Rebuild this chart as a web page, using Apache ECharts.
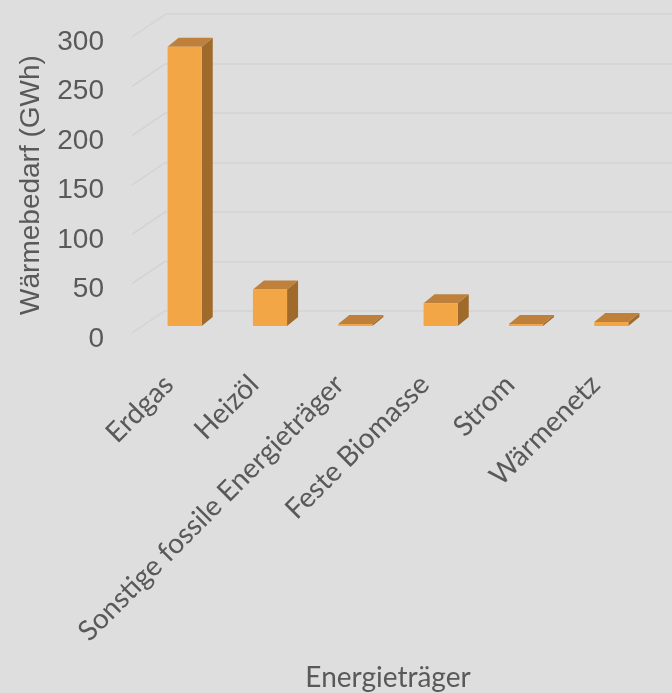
<!DOCTYPE html>
<html>
<head>
<meta charset="utf-8">
<script src="https://cdn.jsdelivr.net/npm/echarts@6/dist/echarts.min.js"></script>
<style>
  html, body { margin: 0; padding: 0; background: #dedede; }
  #chart { width: 672px; height: 693px; }
</style>
</head>
<body>
<div id="chart"></div>
<script>
// Heat demand by energy carrier (GWh)
const categories = ['Erdgas', 'Heizöl', 'Sonstige fossile Energieträger', 'Feste Biomasse', 'Strom', 'Wärmenetz'];
const demandGWh = [283, 37, 2, 23, 2, 4];
const yTicks = [0, 50, 100, 150, 200, 250, 300];

const FRONT = '#f3a646';
const SIDE = '#a06a2a';
const TOP = '#be803a';
const GRID_LINE = '#d3d3d3';
const TEXT = '#595959';

// depth of the back wall relative to the front plane (px)
const WALL_DX = 34, WALL_DY = -23;
// bar placement inside the depth: offset of the bar front face and the bar's own depth
const BAR_FX = 10, BAR_FY = -7;
const BAR_DX = 11, BAR_DY = -9;

const chart = echarts.init(document.getElementById('chart'), null, { renderer: 'canvas' });

function renderBar(params, api) {
  const idx = api.value(0);
  const v = api.value(1);
  const base = api.coord([idx, 0]);
  const topPt = api.coord([idx, v]);
  const band = api.size([1, 0])[0];
  const w = band * 0.4;
  const xl = base[0] + BAR_FX - w / 2;
  const xr = xl + w;
  const yb = base[1] + BAR_FY;
  const yt = topPt[1] + BAR_FY;
  return {
    type: 'group',
    children: [
      { type: 'polygon', shape: { points: [[xr, yb], [xr + BAR_DX, yb + BAR_DY], [xr + BAR_DX, yt + BAR_DY], [xr, yt]] }, style: { fill: SIDE } },
      { type: 'polygon', shape: { points: [[xl, yt], [xr, yt], [xr + BAR_DX, yt + BAR_DY], [xl + BAR_DX, yt + BAR_DY]] }, style: { fill: TOP } },
      { type: 'rect', shape: { x: xl, y: yt, width: w, height: yb - yt }, style: { fill: FRONT } }
    ]
  };
}

function renderSideLine(params, api) {
  const v = api.value(1);
  const p = api.coord([0, v]);
  const x0 = params.coordSys.x;
  return {
    type: 'line',
    shape: { x1: x0, y1: p[1], x2: x0 + WALL_DX, y2: p[1] + WALL_DY },
    style: { stroke: GRID_LINE, lineWidth: 1.5 }
  };
}

const valueAxisBase = { type: 'value', min: 0, max: 300, interval: 50 };

chart.setOption({
  backgroundColor: '#dedede',
  animation: false,
  grid: [
    { left: 132, top: 37, width: 512, height: 297 },   // front plane
    { left: 126, top: 37, width: 512, height: 297 },   // category labels
    { left: 166, top: 14, width: 520, height: 297 },   // back wall
    { left: 132, top: 42, width: 512, height: 297 }    // value labels
  ],
  xAxis: [
    {
      gridIndex: 0, type: 'category', data: categories,
      axisLine: { show: false }, axisTick: { show: false }, axisLabel: { show: false },
      name: 'Energieträger', nameLocation: 'middle', nameGap: 331,
      nameTextStyle: { fontFamily: 'Lato', fontSize: 28, color: TEXT }
    },
    {
      gridIndex: 1, type: 'category', data: categories,
      axisLine: { show: false }, axisTick: { show: false },
      axisLabel: { rotate: 45, margin: 46, interval: 0, fontFamily: 'Lato', fontSize: 28, color: TEXT }
    },
    {
      gridIndex: 2, type: 'category', data: categories,
      axisLine: { show: false }, axisTick: { show: false }, axisLabel: { show: false }
    },
    {
      gridIndex: 3, type: 'category', data: categories, show: false
    }
  ],
  yAxis: [
    Object.assign({}, valueAxisBase, {
      gridIndex: 0,
      axisLine: { show: false }, axisTick: { show: false }, splitLine: { show: false }, axisLabel: { show: false },
      name: 'Wärmebedarf (GWh)', nameLocation: 'middle', nameGap: 87,
      nameTextStyle: { fontFamily: 'Liberation Sans', fontSize: 28, color: TEXT }
    }),
    Object.assign({}, valueAxisBase, {
      gridIndex: 1, show: false, splitLine: { show: false }
    }),
    Object.assign({}, valueAxisBase, {
      gridIndex: 2,
      axisLine: { show: false }, axisTick: { show: false }, axisLabel: { show: false },
      splitLine: { show: true, lineStyle: { color: GRID_LINE, width: 1.5 } }
    }),
    Object.assign({}, valueAxisBase, {
      gridIndex: 3,
      axisLine: { show: false }, axisTick: { show: false }, splitLine: { show: false },
      axisLabel: { margin: 28, fontFamily: 'Liberation Sans', fontSize: 28, color: TEXT }
    })
  ],
  series: [
    {
      type: 'custom', xAxisIndex: 0, yAxisIndex: 0,
      renderItem: renderSideLine,
      data: yTicks.map(t => [0, t]),
      silent: true, z: 1
    },
    {
      type: 'custom', xAxisIndex: 0, yAxisIndex: 0,
      renderItem: renderBar,
      data: demandGWh.map((v, i) => [i, v]),
      z: 5
    }
  ]
});
</script>
</body>
</html>
